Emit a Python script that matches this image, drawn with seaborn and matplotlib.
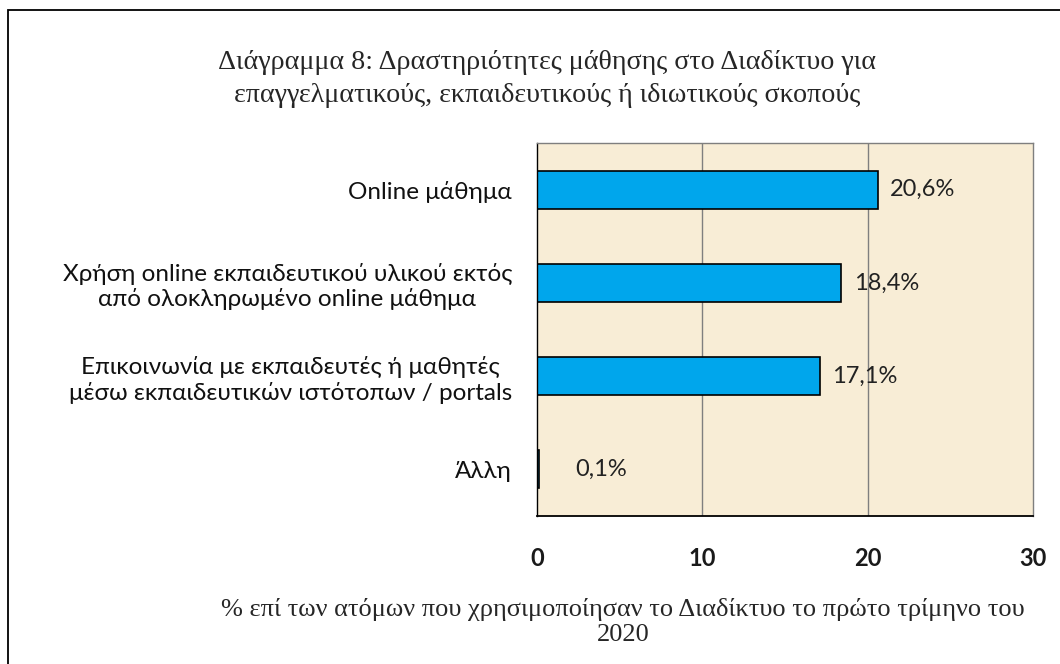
import matplotlib
matplotlib.use("Agg")
import matplotlib.pyplot as plt
import seaborn as sns
import pandas as pd
from matplotlib.patches import Rectangle

categories = [
    "Online μάθημα",
    "Χρήση online εκπαιδευτικού υλικού εκτός\nαπό ολοκληρωμένο online μάθημα",
    "Επικοινωνία με εκπαιδευτές ή μαθητές\nμέσω εκπαιδευτικών ιστότοπων / portals",
    "Άλλη",
]
values = [20.6, 18.4, 17.1, 0.1]
value_labels = ["20,6%", "18,4%", "17,1%", "0,1%"]
xticks = [0, 10, 20, 30]

title = "Διάγραμμα 8: Δραστηριότητες μάθησης στο Διαδίκτυο για\nεπαγγελματικούς, εκπαιδευτικούς ή ιδιωτικούς σκοπούς"
xlabel = "% επί των ατόμων που χρησιμοποίησαν το Διαδίκτυο το πρώτο τρίμηνο του\n2020"

df = pd.DataFrame({"cat": categories, "val": values})

sns.set_theme(style="white")
plt.rcParams["font.family"] = ["Lato", "DejaVu Sans"]

fig = plt.figure(figsize=(10.6, 6.64), dpi=100)
fig.patch.set_facecolor("white")
ax = fig.add_axes([537 / 1060, 1 - 516 / 664, 496 / 1060, 373 / 664])
ax.set_facecolor("#F8EDD6")

sns.barplot(data=df, y="cat", x="val", orient="h", color="#00A6EC",
            saturation=1, width=0.41, edgecolor="black", linewidth=1.2, ax=ax)

ax.set_xlim(0, 30)
ax.set_xticks(xticks)
ax.set_xticklabels([str(t) for t in xticks], fontweight="bold", fontsize=17,
                   color="#1a1a1a")
ax.tick_params(axis="x", length=0, pad=22)
ax.tick_params(axis="y", length=0, pad=18)
for lab in ax.get_yticklabels():
    lab.set_fontsize(17.5)
    lab.set_multialignment("center")
    lab.set_color("#111111")
ax.set_xlabel("")
ax.set_ylabel("")

for x in [10, 20]:
    ax.axvline(x, color="#7f7f7f", linewidth=1, zorder=0)
ax.set_axisbelow(True)

for sname, sp in ax.spines.items():
    sp.set_visible(True)
    sp.set_color("#7f7f7f")
    sp.set_linewidth(1)
ax.spines["left"].set_color("black")
ax.spines["bottom"].set_color("black")
ax.spines["bottom"].set_linewidth(1.3)

for i, (v, t) in enumerate(zip(values, value_labels)):
    off = 9 if v > 1 else 26
    ax.annotate(t, xy=(v, i), xytext=(off, 0), textcoords="offset points",
                ha="left", va="center", fontsize=17, color="#222222")

fig.text(547 / 1060, 1 - 79 / 664, title, ha="center", va="center",
         fontfamily="Liberation Serif", fontsize=20.2, linespacing=1.4)
fig.text(623 / 1060, 1 - 622 / 664, xlabel, ha="center", va="center",
         fontfamily="Liberation Serif", fontsize=19, linespacing=1.2)

fig.patches.append(Rectangle((8 / 1060, -0.05), 1.1, 1 - 10 / 664 + 0.05,
                             transform=fig.transFigure, fill=False,
                             edgecolor="black", linewidth=1.3))

fig.savefig("out.png", dpi=100)
